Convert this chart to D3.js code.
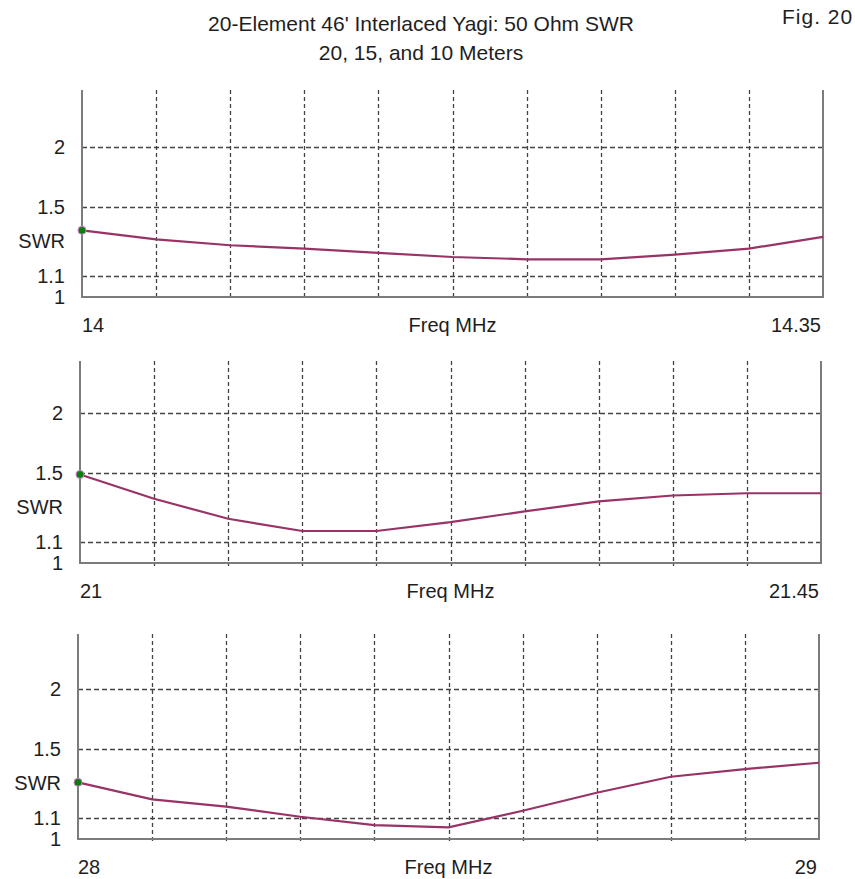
<!DOCTYPE html>
<html>
<head>
<meta charset="utf-8">
<title>20-Element 46' Interlaced Yagi: 50 Ohm SWR</title>
<script src="https://cdn.jsdelivr.net/npm/d3@7"></script>
<style>
  body { margin: 0; background: #fff; }
  text { font-family: "Liberation Sans", Arial, sans-serif; fill: #1e1e1e; }
</style>
</head>
<body>
<div id="chart"></div>
<script>
// SWR, one value per grid column (11 per band)
var freq20 = [14.000, 14.035, 14.070, 14.105, 14.140, 14.175, 14.210, 14.245, 14.280, 14.315, 14.350];
var swr20  = [1.348, 1.294, 1.260, 1.241, 1.217, 1.195, 1.183, 1.183, 1.208, 1.241, 1.308];

var freq15 = [21.000, 21.045, 21.090, 21.135, 21.180, 21.225, 21.270, 21.315, 21.360, 21.405, 21.450];
var swr15  = [1.490, 1.333, 1.218, 1.153, 1.153, 1.200, 1.259, 1.317, 1.353, 1.367, 1.367];

var freq10 = [28.0, 28.1, 28.2, 28.3, 28.4, 28.5, 28.6, 28.7, 28.8, 28.9, 29.0];
var swr10  = [1.288, 1.193, 1.155, 1.104, 1.064, 1.053, 1.134, 1.229, 1.321, 1.368, 1.408];

var startLabels = ["14", "21", "28"];
var endLabels = ["14.35", "21.45", "29"];
var yTicks = [2, 1.5, 1.1, 1];
var gridTicks = [2, 1.5, 1.1];

var width = 855, height = 879;

// panel frames (pixels)
var frames = [
  {left: 82, right: 823, top: 90,  bottom: 297},
  {left: 80, right: 821, top: 361, bottom: 563},
  {left: 78, right: 819, top: 634, bottom: 839}
];

var bands = [
  {freq: freq20, swr: swr20},
  {freq: freq15, swr: swr15},
  {freq: freq10, swr: swr10}
];

// the SWR axis is linear in reflection coefficient
function rho(s) { return (s - 1) / (s + 1); }

var svg = d3.select("#chart")
  .append("svg")
    .attr("width", width)
    .attr("height", height);

// titles
svg.append("text")
  .attr("x", 421).attr("y", 31)
  .attr("text-anchor", "middle")
  .style("font-size", "21px")
  .text("20-Element 46' Interlaced Yagi: 50 Ohm SWR");

svg.append("text")
  .attr("x", 421).attr("y", 60)
  .attr("text-anchor", "middle")
  .style("font-size", "21px")
  .text("20, 15, and 10 Meters");

svg.append("text")
  .attr("x", 782).attr("y", 24)
  .style("font-size", "21px")
  .style("letter-spacing", "1px")
  .text("Fig. 20");

bands.forEach(function(band, i) {
  var f = frames[i];
  var g = svg.append("g");

  var x = d3.scaleLinear()
    .domain([band.freq[0], band.freq[band.freq.length - 1]])
    .range([f.left, f.right]);

  var y = d3.scaleLinear()
    .domain([0, rho(2)])
    .range([f.bottom, f.bottom - 150]);

  // horizontal dashed grid
  g.selectAll(".hgrid")
    .data(gridTicks)
    .enter()
    .append("line")
      .attr("x1", f.left).attr("x2", f.right)
      .attr("y1", function(d) { return Math.round(y(rho(d))) + 0.5; })
      .attr("y2", function(d) { return Math.round(y(rho(d))) + 0.5; })
      .attr("stroke", "#444")
      .attr("stroke-width", 1.3)
      .attr("stroke-dasharray", "5,3");

  // vertical dashed grid on the inner frequency steps
  g.selectAll(".vgrid")
    .data(band.freq.slice(1, -1))
    .enter()
    .append("line")
      .attr("x1", function(d) { return Math.round(x(d)) + 0.5; })
      .attr("x2", function(d) { return Math.round(x(d)) + 0.5; })
      .attr("y1", f.top).attr("y2", f.bottom + 3)
      .attr("stroke", "#444")
      .attr("stroke-width", 1.3)
      .attr("stroke-dasharray", "4,3");

  // frame: left, bottom, right
  g.append("path")
    .attr("d", "M" + f.left + "," + f.top + "V" + f.bottom + "H" + f.right + "V" + f.top)
    .attr("fill", "none")
    .attr("stroke", "#7c7c7c")
    .attr("stroke-width", 2);

  // y labels
  g.selectAll(".ylab")
    .data(yTicks)
    .enter()
    .append("text")
      .attr("x", f.left - 17)
      .attr("y", function(d) { return y(rho(d)); })
      .attr("dy", "0.36em")
      .attr("text-anchor", "end")
      .style("font-size", "20px")
      .text(function(d) { return d; });

  g.append("text")
    .attr("x", f.left - 17)
    .attr("y", f.bottom - 56)
    .attr("dy", "0.36em")
    .attr("text-anchor", "end")
    .style("font-size", "20px")
    .text("SWR");

  // x labels
  g.append("text")
    .attr("x", f.left)
    .attr("y", f.bottom + 28)
    .attr("dy", "0.36em")
    .style("font-size", "20px")
    .text(startLabels[i]);

  g.append("text")
    .attr("x", (f.left + f.right) / 2)
    .attr("y", f.bottom + 28)
    .attr("dy", "0.36em")
    .attr("text-anchor", "middle")
    .style("font-size", "20px")
    .text("Freq MHz");

  g.append("text")
    .attr("x", f.right - 2)
    .attr("y", f.bottom + 28)
    .attr("dy", "0.36em")
    .attr("text-anchor", "end")
    .style("font-size", "20px")
    .text(endLabels[i]);

  // SWR curve
  var line = d3.line()
    .x(function(d, j) { return x(band.freq[j]); })
    .y(function(d) { return y(rho(d)); });

  g.append("path")
    .datum(band.swr)
    .attr("d", line)
    .attr("fill", "none")
    .attr("stroke", "#993366")
    .attr("stroke-width", 2.2);

  // marker at the first point
  g.append("circle")
    .attr("cx", x(band.freq[0]))
    .attr("cy", y(rho(band.swr[0])))
    .attr("r", 4)
    .attr("fill", "#0b7d0b")
    .attr("stroke", "#d77ad7")
    .attr("stroke-width", 1);
});
</script>
</body>
</html>
